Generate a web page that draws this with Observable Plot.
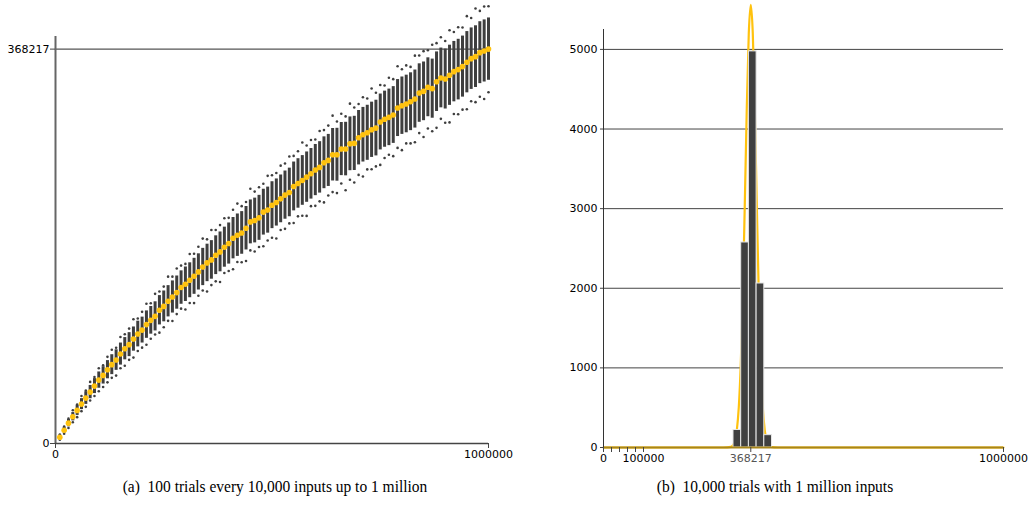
<!DOCTYPE html>
<html>
<head>
<meta charset="utf-8">
<script src="https://cdn.jsdelivr.net/npm/d3@7"></script>
<script src="https://cdn.jsdelivr.net/npm/@observablehq/plot@0.6"></script>
<style>
  html, body { margin: 0; padding: 0; background: #fff; }
  #wrap { position: relative; width: 1030px; height: 505px; overflow: hidden; }
  #left { position: absolute; left: 0; top: 0; }
  #right { position: absolute; left: 520px; top: 0; }
  .cap { position: absolute; top: 477px; font-family: "Liberation Serif", "DejaVu Serif", serif; font-size: 17px; line-height: 20px; color: #000; white-space: pre; text-align: center; transform: scaleX(0.91); transform-origin: center; }
  #capA { left: 75px; width: 400px; }
  #capB { left: 575px; width: 400px; }
</style>
</head>
<body>
<div id="wrap">
  <div id="left"></div>
  <div id="right"></div>
  <div class="cap" id="capA">(a)  100 trials every 10,000 inputs up to 1 million</div>
  <div class="cap" id="capB">(b)  10,000 trials with 1 million inputs</div>
</div>
<script>
// ---------- Panel (a): 100 trials every 10,000 inputs ----------
const inputs = [10000,20000,30000,40000,50000,60000,70000,80000,90000,100000,
110000,120000,130000,140000,150000,160000,170000,180000,190000,200000,
210000,220000,230000,240000,250000,260000,270000,280000,290000,300000,
310000,320000,330000,340000,350000,360000,370000,380000,390000,400000,
410000,420000,430000,440000,450000,460000,470000,480000,490000,500000,
510000,520000,530000,540000,550000,560000,570000,580000,590000,600000,
610000,620000,630000,640000,650000,660000,670000,680000,690000,700000,
710000,720000,730000,740000,750000,760000,770000,780000,790000,800000,
810000,820000,830000,840000,850000,860000,870000,880000,890000,900000,
910000,920000,930000,940000,950000,960000,970000,980000,990000,1000000];

// mean of the 100 trials (yellow dots)
const means = [5900,12400,19000,25000,30900,36800,42400,48000,53600,59200,
63600,68900,73600,77900,83500,88500,92300,97500,102200,105900,
111000,115000,118700,124400,128000,132800,136800,140900,145600,148700,
152400,156100,160200,164800,168600,171400,175800,178900,183300,186700,
191700,194500,196600,201000,206900,208200,210700,216000,217900,222500,
225000,228400,231900,234400,240000,242800,245600,248700,251800,255300,
257800,262100,264300,269600,269600,274900,274900,279800,280200,285500,
288300,290100,292900,294500,300200,302800,304500,306700,313200,315400,
317000,319100,321600,327200,328800,332600,331300,337800,341300,340300,
343800,347200,349100,351900,356000,359300,361200,364900,366500,368217];

// half-height of the dense band of trials around the mean
const spread = [1800,2600,3400,3900,4700,5100,5900,6200,7000,7600,
8100,8500,9300,9600,10300,10400,11200,11300,12000,12100,
12800,12900,13600,13700,14400,14600,15000,15500,15600,16100,
16300,16800,16900,17400,17500,18000,18100,18600,18700,19200,
19300,19800,19900,20300,20500,20900,21000,21400,21500,21900,
22000,22300,22500,22700,22800,23100,23200,23500,23600,23900,
24000,24200,24300,24500,24700,24800,25000,25100,25300,25400,
25500,25700,25800,26000,26100,26200,26400,26500,26600,26800,
26900,27000,27100,27300,27400,27500,27600,27800,27900,28000,
28100,28200,28300,28500,28600,28700,28800,28900,29000,29100];

// highest trial above the mean
const highest = [2500,3500,4200,6000,5500,7500,7000,9500,8500,11000,
9500,12000,14000,11500,16000,13500,15000,18500,14500,17000,
19500,16000,21000,17500,18500,23000,19000,22500,20500,19000,
24500,21000,23500,26500,22000,28000,23500,25000,27000,24000,
26500,29500,25000,24500,31000,27000,28500,26500,32000,28000,
27500,31000,29500,33500,28500,30000,35500,29500,31500,28500,
34000,30500,32500,36500,31000,33000,30500,37500,33500,31500,
35000,32000,38500,33000,34500,31500,37000,33500,39000,34000,
36000,32500,40500,35000,37500,34500,41000,36000,38000,35500,
42000,37000,39500,36500,43000,38000,45000,39000,41500,40000];

// lowest trial below the mean
const lowest = [2400,3300,4500,5200,6300,6600,8200,7900,9200,10400,
10900,11800,12300,14500,13200,15900,14200,17300,15800,16400,
18800,17200,16900,20900,19400,18300,22400,20100,19700,23600,
21200,25000,22300,21900,26700,23500,24400,28100,24100,25600,
29000,25100,27400,30600,26600,28900,27200,31800,28300,30400,
33600,29100,31500,28900,34100,30700,32900,36200,30200,33400,
31700,37000,32800,34900,35800,32200,38400,33600,36500,34700,
39000,34200,36900,35800,40100,36300,34900,38400,37200,41500,
36800,38900,40300,37400,42600,38500,39700,43100,38200,40800,
44000,39600,41700,40200,43900,39800,42500,41100,44800,40300];

const leftXTicks = [0, 1000000];
const leftYTicks = [0, 368217];

// ---------- Panel (b): 10,000 trials with 1 million inputs ----------
const binStart = [325000, 344250, 363500, 382750, 402000];
const binEnd   = [344250, 363500, 382750, 402000, 421250];
const binCount = [220, 2575, 4975, 2060, 155];

const curveX = [0, 300000, 318217, 323217, 328217, 333217, 338217, 343217, 348217, 353217, 358217, 363217,
  368217, 373217, 378217, 383217, 388217, 393217, 398217, 403217, 408217, 413217, 418217, 436217, 1000000];
const curveY = [0, 0, 7, 25, 78, 213, 505, 1052, 1915, 3053, 4260, 5202,
  5560, 5202, 4260, 3053, 1915, 1052, 505, 213, 78, 25, 7, 0, 0];

const rightYTicks = [0, 1000, 2000, 3000, 4000, 5000];
const rightXTicks = [0, 20000, 40000, 60000, 80000, 100000, 1000000];
const rightXLabeled = [0, 100000, 1000000];
const meanTick = [368217];

// ---------- build tables ----------
const cols = inputs.map((n, i) => ({n, mean: means[i], spread: spread[i], hi: highest[i], lo: lowest[i]}));
const extremes = cols.flatMap(d => [{n: d.n, v: d.mean + d.hi}, {n: d.n, v: d.mean - d.lo}]);
const bins = binStart.map((s, i) => ({x1: s, x2: binEnd[i], count: binCount[i]}));
const curve = curveX.map((x, i) => ({x, y: curveY[i]}));

const DARK = "#3e3e3e";
const GOLD = "#ffc20e";
const axisStyle = {fontFamily: "'DejaVu Sans', sans-serif", fontSize: "11px", color: "#000", background: "transparent", overflow: "visible"};

const left = Plot.plot({
  width: 520, height: 470,
  marginLeft: 55, marginRight: 32, marginTop: 36, marginBottom: 27,
  x: {domain: [0, 1000000]},
  y: {domain: [0, 380000]},
  style: axisStyle,
  marks: [
    Plot.ruleY([368217], {stroke: "#555", strokeWidth: 1.3}),
    Plot.ruleX(cols, {x: "n", y1: d => d.mean - d.spread, y2: d => d.mean + d.spread, stroke: DARK, strokeWidth: 3}),
    Plot.dot(extremes, {x: "n", y: "v", r: 1.3, fill: DARK}),
    Plot.dot(cols, {x: "n", y: "mean", r: 2.8, fill: GOLD}),
    Plot.ruleX([0], {stroke: "#666", strokeWidth: 2}),
    Plot.ruleY([0], {stroke: "#444", strokeWidth: 1.5}),
    Plot.axisY({ticks: leftYTicks, tickFormat: d => String(d), tickSize: 5, tickPadding: 1, label: null, stroke: "#444"}),
    Plot.axisX({ticks: leftXTicks, tickFormat: d => String(d), tickSize: 5, tickPadding: 2, label: null, stroke: "#444"})
  ]
});
document.getElementById("left").appendChild(left);

const right = Plot.plot({
  width: 510, height: 470,
  marginLeft: 83, marginRight: 27, marginTop: 29, marginBottom: 23,
  x: {domain: [0, 1000000]},
  y: {domain: [0, 5250]},
  style: axisStyle,
  marks: [
    Plot.ruleY(rightYTicks.filter(d => d > 0), {stroke: "#444", strokeWidth: 1}),
    Plot.line(curve, {x: "x", y: "y", stroke: GOLD, strokeWidth: 2.2, curve: "monotone-x"}),
    Plot.rect(bins, {x1: "x1", x2: "x2", y1: 0, y2: "count", fill: "#404040", stroke: "#e6e6e6", strokeWidth: 1}),
    Plot.ruleY([0], {stroke: "#a8861a", strokeWidth: 1.8}),
    Plot.ruleX([0], {stroke: "#333", strokeWidth: 1}),
    Plot.axisY({ticks: rightYTicks, tickFormat: d => String(d), tickSize: 3, tickPadding: 3, label: null, stroke: "#444"}),
    Plot.axisX({ticks: rightXTicks, tickFormat: d => rightXLabeled.includes(d) ? String(d) : "", tickSize: 5, tickPadding: 2, label: null, stroke: "#444"}),
    Plot.axisX({ticks: meanTick, tickFormat: d => String(d), tickSize: 5, tickPadding: 2, label: null, stroke: "#444", fill: "#555"})
  ]
});
document.getElementById("right").appendChild(right);
</script>
</body>
</html>
